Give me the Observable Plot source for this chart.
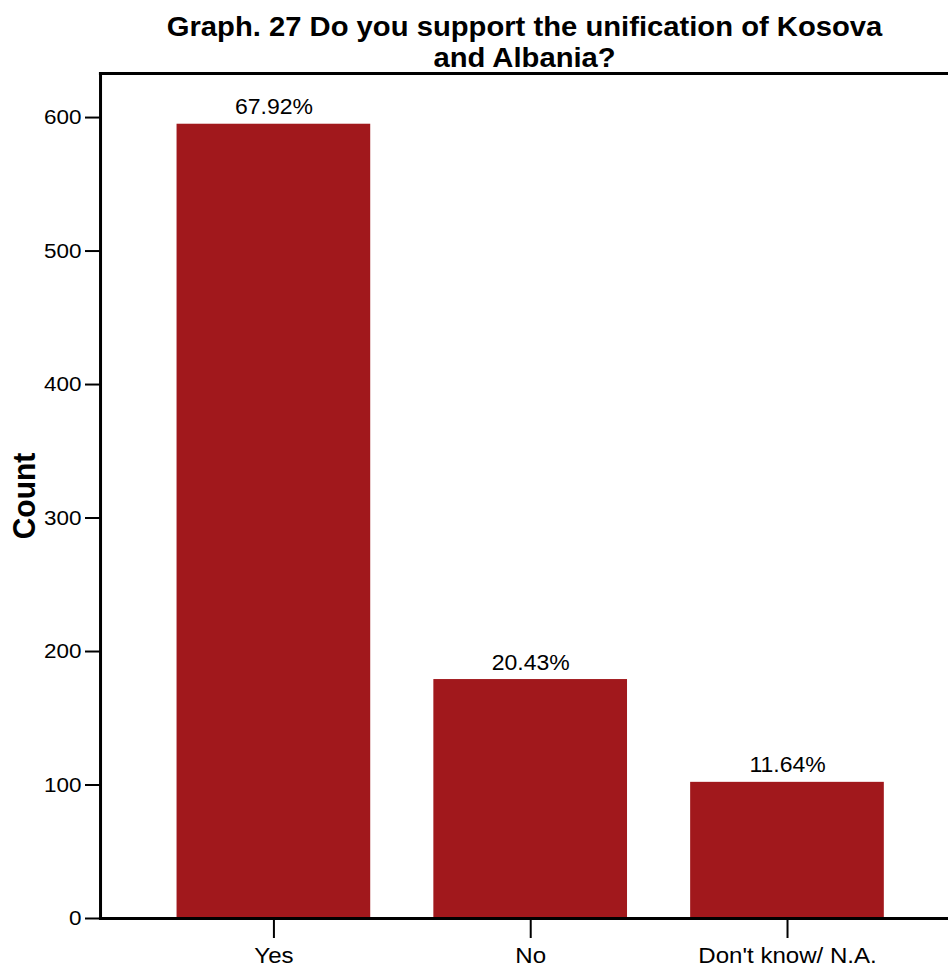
<!DOCTYPE html>
<html><head><meta charset="utf-8">
<script src="https://cdn.jsdelivr.net/npm/d3@7"></script>
<script src="https://cdn.jsdelivr.net/npm/@observablehq/plot@0.6"></script>
<style>body{margin:0;background:#fff;} svg{display:block;}</style>
</head><body><div id="chart"></div>
<script>
const categories = ["Yes", "No", "Don't know/ N.A."];
const counts = [595, 179, 102];
const percentLabels = ["67.92%", "20.43%", "11.64%"];
const yTicks = [0, 100, 200, 300, 400, 500, 600];
const titleText = "Graph. 27 Do you support the unification of Kosova\nand Albania?";
const yLabel = "Count";

const data = categories.map((c, i) => ({category: c, count: counts[i], label: percentLabels[i]}));
const S = 1.07;   // horizontal stretch of the original rendering
const W = 948, H = 967;
const font = "'Liberation Sans', Arial, sans-serif";
const plot = Plot.plot({
  width: W / S, height: H,
  marginLeft: 100 / S, marginRight: 0, marginTop: 73, marginBottom: 49,
  style: {fontFamily: font, background: "#fff", color: "#000"},
  x: {domain: categories, range: [100 / S, 961 / S], paddingInner: 0.247, paddingOuter: 0.2955, align: 0.5},
  y: {domain: [0, 633], ticks: yTicks},
  marks: [
    Plot.barY(data, {x: "category", y: "count", fill: "#a1181c"}),
    Plot.text(data, {x: "category", y: "count", text: "label", lineAnchor: "bottom", dy: -10, fontSize: 21.5, fill: "#000"}),
    Plot.axisY({ticks: yTicks, tickSize: 15 / S, tickPadding: 4 / S, fontSize: 21, label: null, strokeWidth: 2}),
    Plot.axisX({tickSize: 20, tickPadding: 9, fontSize: 22.5, label: null, strokeWidth: 2 / S}),
    Plot.frame({anchor: "left", strokeWidth: 3 / S}),
    Plot.frame({anchor: "top", strokeWidth: 3}),
    Plot.frame({anchor: "bottom", strokeWidth: 3}),
    Plot.text([yLabel], {text: d => d, frameAnchor: "left", dx: -76 / S, rotate: -90, fontSize: 30, fontWeight: "bold", textAnchor: "middle", lineAnchor: "middle"}),
    Plot.text([titleText], {text: d => d, frameAnchor: "top", dy: -32, fontSize: 27.3, fontWeight: "bold", lineAnchor: "middle", lineHeight: 1.14, textAnchor: "middle"})
  ]
});
plot.setAttribute("width", W);
plot.setAttribute("height", H);
plot.setAttribute("preserveAspectRatio", "none");
plot.style.width = W + "px";
plot.style.height = H + "px";
plot.style.maxWidth = "none";
document.getElementById("chart").appendChild(plot);
</script>
</body></html>
